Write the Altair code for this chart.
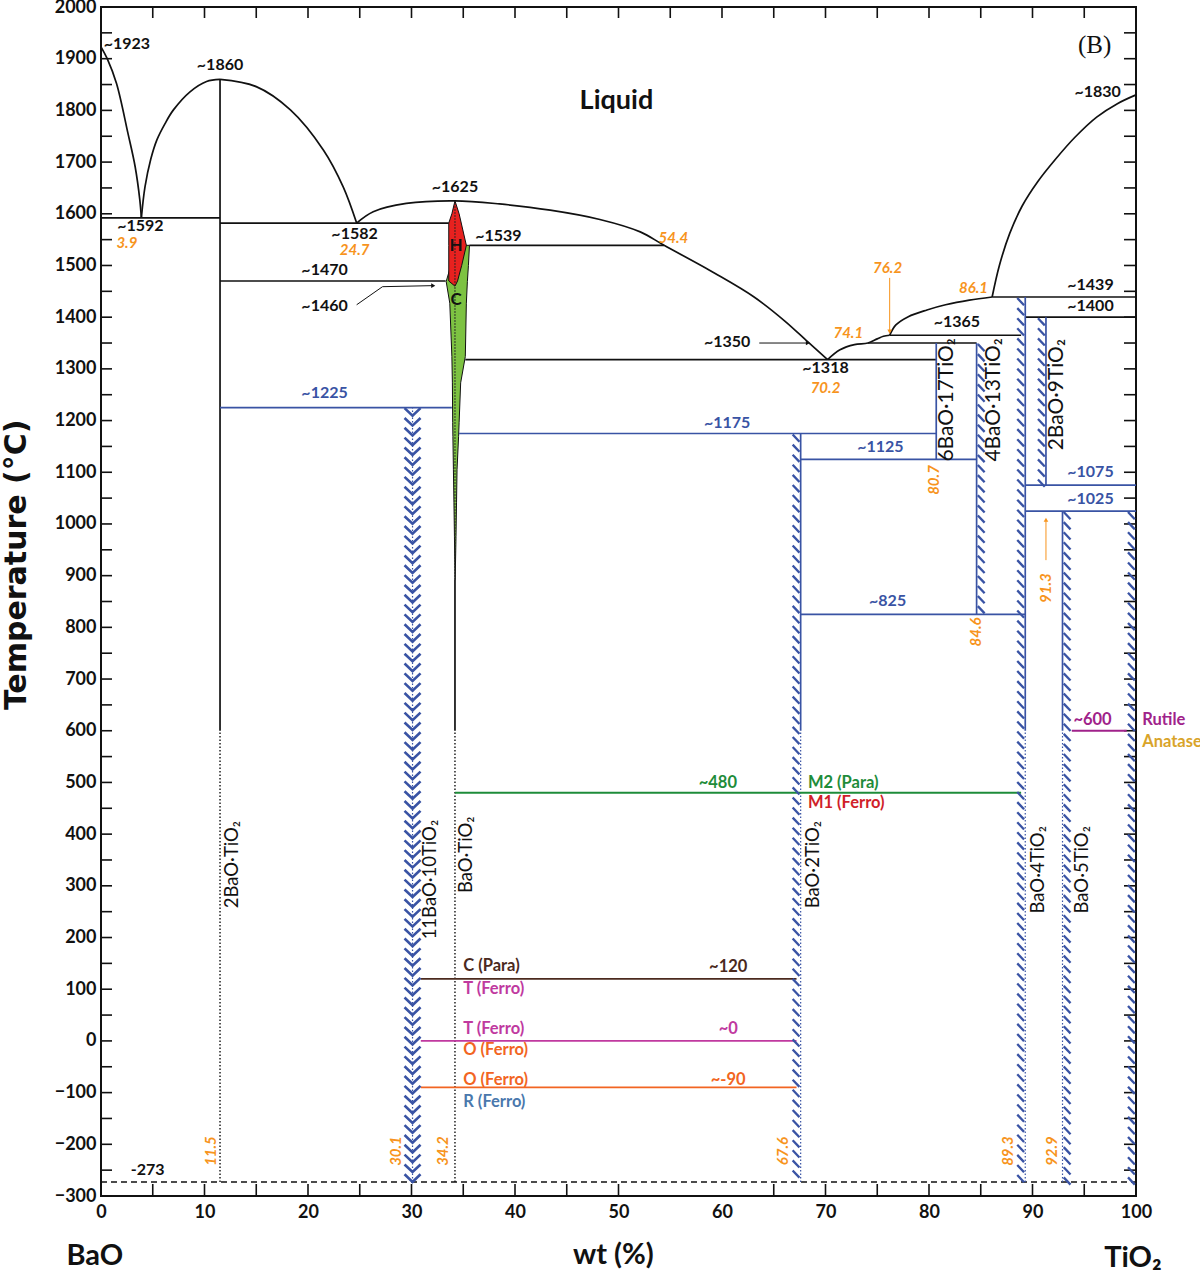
import altair as alt
import pandas as pd
import numpy as np

# ---------------- data (wt% TiO2, temperature in °C) ----------------
# liquidus curves
liq_a_x = [0.0, 0.6, 1.5, 2.6, 3.3, 3.75, 3.9]
liq_a_t = [1923, 1900, 1852, 1756, 1691, 1627, 1592]
liq_b_x = [3.9, 4.25, 4.8, 5.4, 6.2, 7.0, 8.6, 10.2, 11.5]
liq_b_t = [1592, 1652, 1705, 1743, 1775, 1801, 1836, 1856, 1860]
liq_c_x = [11.5, 15.0, 18.3, 21.5, 23.4, 24.7]
liq_c_t = [1860, 1846, 1801, 1723, 1652, 1582]
liq_d_x = [24.7, 26.3, 29.5, 34.2, 38.5, 43.4, 48.2, 52.1, 54.4, 59.3, 63.1, 66.1, 68.3, 70.2]
liq_d_t = [1582, 1604, 1620, 1625, 1619, 1607, 1589, 1565, 1539, 1485, 1439, 1392, 1352, 1318]
liq_e_x = [70.2, 71.4, 72.8, 74.1, 75.0, 75.6, 76.2]
liq_e_t = [1318, 1337, 1347, 1350, 1358, 1363, 1365]
liq_f_x = [76.2, 76.8, 78.0, 79.8, 81.6, 83.9, 86.1]
liq_f_t = [1365, 1385, 1401, 1414, 1424, 1433, 1439]
liq_g_x = [86.1, 86.8, 87.8, 89.0, 90.5, 92.2, 94.1, 96.2, 98.2, 100.0]
liq_g_t = [1439, 1500, 1562, 1615, 1662, 1705, 1748, 1787, 1813, 1830]

# hexagonal (H) and cubic (C) BaTiO3 solid-solution fields (closed outlines)
h_x = [34.2, 33.6, 33.6, 33.6, 33.9, 34.2, 34.6, 35.3, 34.85, 34.45, 34.2]
h_t = [1460, 1470, 1539, 1582, 1600, 1625, 1600, 1539, 1500, 1470, 1460]
c_x = [34.2, 34.15, 34.1, 34.05, 34.0, 33.98, 33.95, 33.9, 33.7, 33.35, 33.8, 34.2,
       35.6, 35.5, 35.4, 35.3, 35.2, 34.75, 34.6, 34.55, 34.4, 34.35, 34.3, 34.22, 34.2]
c_t = [892, 976, 1041, 1105, 1169, 1196, 1273, 1324, 1427, 1469, 1500, 1539,
       1539, 1500, 1469, 1427, 1324, 1273, 1196, 1169, 1105, 1041, 976, 892, 892]

# horizontal invariant lines (x from, x to, T)
blk_h_x1 = [0.0, 11.5, 11.5, 35.6, 35.2, 74.1, 76.2, 86.1, 89.3]
blk_h_x2 = [11.5, 33.6, 33.3, 54.4, 80.7, 84.6, 88.9, 100.0, 100.0]
blk_h_t = [1592, 1582, 1470, 1539, 1318, 1350, 1365, 1439, 1400]
blu_h_x1 = [11.5, 34.6, 67.6, 67.6, 89.3, 89.3]
blu_h_x2 = [33.9, 80.7, 84.6, 89.3, 100.0, 100.0]
blu_h_t = [1225, 1175, 1125, 825, 1075, 1025]

# vertical lines (x, T low, T high)
blk_v_x = [11.5, 34.2]
blk_v_lo = [600, 600]
blk_v_hi = [1860, 892]
blk_dot_x = [11.5, 34.2]
blu_v_x = [80.7, 67.6, 84.6, 89.3, 91.3, 92.9]
blu_v_lo = [1125, 600, 825, 600, 1075, 600]
blu_v_hi = [1350, 1175, 1350, 1439, 1400, 1025]
blu_dot_x = [67.6, 89.3, 92.9, 30.1]
blu_dot_hi = [600, 600, 600, 1225]

# hatched compound bars (x, T top, T bottom)
chev_bars = [(30.1, 1225, -273)]
left_bars = [(67.6, 1175, -273), (89.3, 1439, -273), (91.3, 1400, 1075), (100.0, 1025, -273)]
right_bars = [(84.6, 1350, 825), (92.9, 1025, -273)]

# polymorphic transitions
tr_x1 = [34.2, 30.9, 30.9, 30.9, 93.8]
tr_x2 = [88.9, 67.2, 67.2, 67.2, 99.1]
tr_t = [480, 120, 0, -90, 600]
tr_c = ["#1e8c3a", "#4b2a1e", "#c0399f", "#f26522", "#a0228a"]

# labels
black_txt = ["~1923", "~1860", "~1592", "~1582", "~1625", "~1539", "~1470", "~1460",
             "~1350", "~1318", "~1365", "~1439", "~1400", "~1830", "-273"]
black_x = [2.5, 11.5, 3.8, 24.5, 34.2, 38.4, 21.6, 21.6, 60.5, 70.0, 82.7, 95.6, 95.6, 96.3, 4.5]
black_t = [1928, 1888, 1576, 1561, 1652, 1557, 1491, 1422, 1352, 1302, 1391, 1462, 1422, 1836, -249]

blue_txt = ["~1225", "~1175", "~1125", "~825", "~1075", "~1025"]
blue_x = [21.6, 60.5, 75.3, 76.0, 95.6, 95.6]
blue_t = [1253, 1195, 1149, 851, 1101, 1048]

org_txt = ["3.9", "24.7", "54.4", "70.2", "74.1", "76.2", "86.1"]
org_x = [2.5, 24.5, 55.3, 70.0, 72.2, 76.0, 84.3]
org_t = [1543, 1530, 1553, 1263, 1370, 1495, 1457]

orgv_txt = ["80.7", "84.6", "91.3", "11.5", "30.1", "34.2", "67.6", "89.3", "92.9"]
orgv_x = [80.5, 84.5, 91.3, 10.6, 28.5, 33.0, 65.9, 87.6, 91.9]
orgv_t = [1085, 791, 876, -213, -213, -213, -213, -213, -213]

cmp_txt = ["2BaO·TiO₂", "11BaO·10TiO₂", "BaO·TiO₂", "BaO·2TiO₂", "BaO·4TiO₂", "BaO·5TiO₂"]
cmp_x = [12.7, 31.8, 35.3, 68.8, 90.5, 94.8]
cmp_t = [341, 312, 360, 341, 331, 331]
cmp2_txt = ["6BaO·17TiO₂", "4BaO·13TiO₂", "2BaO·9TiO₂"]
cmp2_x = [81.7, 86.3, 92.4]
cmp2_t = [1240, 1240, 1250]

ph_c_txt = ["~480", "~120", "~0", "~-90", "~600"]
ph_c_x = [59.6, 60.6, 60.6, 60.6, 95.8]
ph_c_t = [499, 143, 23, -75, 621]
ph_c_col = ["#1e8c3a", "#4b2a1e", "#c0399f", "#f26522", "#a0228a"]

ph_l_txt = ["M2 (Para)", "M1 (Ferro)", "C (Para)", "T (Ferro)", "T (Ferro)", "O (Ferro)",
            "O (Ferro)", "R (Ferro)", "Rutile", "Anatase"]
ph_l_x = [68.3, 68.3, 35.0, 35.0, 35.0, 35.0, 35.0, 35.0, 100.6, 100.6]
ph_l_t = [499, 461, 144, 101, 23, -17, -75, -118, 621, 578]
ph_l_col = ["#1e8c3a", "#d01f2a", "#4b2a1e", "#c0399f", "#c0399f", "#f26522",
            "#f26522", "#4a78ad", "#a0228a", "#d9a42a"]

# ---------------- styling ----------------
FONT = "Lato"
BLACK = "#111111"
BLUE = "#3953a4"
ORANGE = "#f7941d"
W, H = 1035, 1189
XS = alt.Scale(domain=[0, 100], nice=False, zero=False)
YS = alt.Scale(domain=[-300, 2000], nice=False, zero=False)

XAXIS = alt.Axis(orient="bottom", values=list(range(0, 101, 10)), title=None, ticks=False,
                 domain=False, grid=False, labelFont=FONT, labelFontSize=18, format="d",
                 labelFontWeight="bold", labelColor=BLACK, labelPadding=7, labelFlush=False,
                 labelOverlap=False)
YAXIS = alt.Axis(orient="left", values=list(range(-300, 2001, 100)), title=None, ticks=False,
                 domain=False, grid=False, labelFont=FONT, labelFontSize=18, format="d",
                 labelFontWeight="bold", labelColor=BLACK, labelPadding=5, labelFlush=False,
                 labelOverlap=False)


def X(f="x"):
    return alt.X(f, type="quantitative", scale=XS, axis=XAXIS)


def Y(f="T"):
    return alt.Y(f, type="quantitative", scale=YS, axis=YAXIS)


def path_df(segs):
    rows = []
    for k, (xs, ts) in enumerate(segs):
        for i, (x, t) in enumerate(zip(xs, ts)):
            rows.append({"seg": k, "i": i, "x": x, "T": t})
    return pd.DataFrame(rows)


def hrule(x1, x2, t, **kw):
    df = pd.DataFrame({"x1": x1, "x2": x2, "T": t})
    return alt.Chart(df).mark_rule(**kw).encode(x=X("x1"), x2=alt.X2("x2"), y=Y("T"))


def vrule(x, lo, hi, **kw):
    df = pd.DataFrame({"x": x, "lo": lo, "hi": hi})
    return alt.Chart(df).mark_rule(**kw).encode(x=X("x"), y=Y("lo"), y2=alt.Y2("hi"))


def hatch(bars, shape, size, step, sw):
    rows = []
    for (x, top, bot) in bars:
        for t in np.arange(top - step / 2.0, bot, -step):
            rows.append({"x": x, "T": t})
    return alt.Chart(pd.DataFrame(rows)).mark_point(
        shape=shape, size=size, filled=False, stroke=BLUE, strokeWidth=sw, opacity=1
    ).encode(x=X(), y=Y())


def texts(txt, xs, ts, col=None, font=FONT, **kw):
    df = pd.DataFrame({"text": txt, "x": xs, "T": ts})
    enc = dict(x=X(), y=Y(), text="text:N")
    if col is not None:
        df["c"] = col
        enc["color"] = alt.Color("c:N", scale=None)
    return alt.Chart(df).mark_text(font=font, **kw).encode(**enc)


def polygon(xs, ts, fill):
    df = pd.DataFrame({"x": xs, "T": ts, "i": list(range(len(xs)))})
    return alt.Chart(df).mark_line(fill=fill, stroke=BLACK, strokeWidth=1, interpolate="linear") \
        .encode(x=X(), y=Y(), order="i:Q")


layers = []

# inward frame ticks (these layers also carry the axes)
yt = pd.DataFrame({"T": list(range(-300, 2001, 50))})
xt = pd.DataFrame({"x": list(range(0, 101, 5))})
xb = pd.DataFrame({"x": [v for v in range(0, 101, 5) if v not in (55, 60)]})
layers.append(alt.Chart(yt).mark_rule(color=BLACK, strokeWidth=1.6)
              .encode(y=Y("T"), x=alt.value(0), x2=alt.value(11)))
layers.append(alt.Chart(yt).mark_rule(color=BLACK, strokeWidth=1.6)
              .encode(y=Y("T"), x=alt.value(W - 12), x2=alt.value(W)))
layers.append(alt.Chart(xt).mark_rule(color=BLACK, strokeWidth=1.6)
              .encode(x=X("x"), y=alt.value(0), y2=alt.value(11)))
layers.append(alt.Chart(xb).mark_rule(color=BLACK, strokeWidth=1.6)
              .encode(x=X("x"), y=alt.value(H - 12), y2=alt.value(H)))

# phase fields
layers.append(polygon(c_x, c_t, "#7dc242"))
layers.append(polygon(h_x, h_t, "#e8211f"))

# liquidus curves
curves = path_df([(liq_a_x, liq_a_t), (liq_b_x, liq_b_t), (liq_c_x, liq_c_t), (liq_d_x, liq_d_t),
                  (liq_e_x, liq_e_t), (liq_f_x, liq_f_t), (liq_g_x, liq_g_t)])
layers.append(alt.Chart(curves).mark_line(color=BLACK, strokeWidth=1.7, interpolate="catmull-rom")
              .encode(x=X(), y=Y(), detail="seg:N", order="i:Q"))

# invariant lines
layers.append(hrule(blk_h_x1, blk_h_x2, blk_h_t, color=BLACK, strokeWidth=1.7))
layers.append(vrule(blk_v_x, blk_v_lo, blk_v_hi, color=BLACK, strokeWidth=1.7))
layers.append(vrule(blk_dot_x, [-273] * len(blk_dot_x), [600] * len(blk_dot_x),
                    color=BLACK, strokeWidth=1.4, strokeDash=[1.5, 2]))
layers.append(vrule([34.2], [892], [1625], color="#222222", strokeWidth=1.2, strokeDash=[1.5, 1.5]))
layers.append(hrule([0.0], [100.0], [-273], color=BLACK, strokeWidth=1.6, strokeDash=[6, 4]))
layers.append(hrule(blu_h_x1, blu_h_x2, blu_h_t, color=BLUE, strokeWidth=1.7))
layers.append(vrule(blu_v_x, blu_v_lo, blu_v_hi, color=BLUE, strokeWidth=1.7))
layers.append(vrule(blu_dot_x, [-273] * len(blu_dot_x), blu_dot_hi,
                    color=BLUE, strokeWidth=1.2, strokeDash=[1.5, 2]))

# polymorphic transitions
tr_df = pd.DataFrame({"x1": tr_x1, "x2": tr_x2, "T": tr_t, "c": tr_c})
layers.append(alt.Chart(tr_df).mark_rule(strokeWidth=1.8)
              .encode(x=X("x1"), x2=alt.X2("x2"), y=Y("T"), color=alt.Color("c:N", scale=None)))

# hatched compound bars
layers.append(hatch(chev_bars, "M -1 -0.55 L 0 0.4 L 1 -0.55", 256, 19.0, 2.6))
layers.append(hatch(left_bars, "M -1 -0.5 L -0.15 0.4", 256, 19.5, 2.3))
layers.append(hatch(right_bars, "M 0.15 -0.5 L 1 0.4", 256, 19.5, 2.3))

# arrows
arr_blk = path_df([([24.7, 27.2, 32.1], [1424, 1459, 1461]), ([63.6, 68.3], [1350, 1350])])
layers.append(alt.Chart(arr_blk).mark_line(color=BLACK, strokeWidth=1)
              .encode(x=X(), y=Y(), detail="seg:N", order="i:Q"))
arr_org = path_df([([76.2, 76.2], [1476, 1372]), ([91.3, 91.3], [930, 1008])])
layers.append(alt.Chart(arr_org).mark_line(color=ORANGE, strokeWidth=1)
              .encode(x=X(), y=Y(), detail="seg:N", order="i:Q"))
layers.append(alt.Chart(pd.DataFrame({"x": [32.1, 68.3], "T": [1461, 1350]}))
              .mark_point(shape="triangle-right", size=22, filled=True, color=BLACK, opacity=1)
              .encode(x=X(), y=Y()))
layers.append(alt.Chart(pd.DataFrame({"x": [76.2], "T": [1372]}))
              .mark_point(shape="triangle-down", size=22, filled=True, color=ORANGE, opacity=1)
              .encode(x=X(), y=Y()))
layers.append(alt.Chart(pd.DataFrame({"x": [91.3], "T": [1008]}))
              .mark_point(shape="triangle-up", size=22, filled=True, color=ORANGE, opacity=1)
              .encode(x=X(), y=Y()))

# text labels
layers.append(texts(black_txt, black_x, black_t, fontSize=16, fontWeight="bold", color=BLACK))
layers.append(texts(blue_txt, blue_x, blue_t, fontSize=16, fontWeight="bold", color=BLUE))
layers.append(texts(org_txt, org_x, org_t, fontSize=15, fontWeight="bold", fontStyle="italic",
                    color=ORANGE))
layers.append(texts(orgv_txt, orgv_x, orgv_t, fontSize=15, fontWeight="bold", fontStyle="italic",
                    color=ORANGE, angle=270))
layers.append(texts(cmp_txt, cmp_x, cmp_t, fontSize=18.5, color=BLACK, angle=270))
layers.append(texts(cmp2_txt, cmp2_x, cmp2_t, fontSize=21, color=BLACK, angle=270))
layers.append(texts(ph_c_txt, ph_c_x, ph_c_t, col=ph_c_col, fontSize=16.5, fontWeight="bold"))
layers.append(texts(ph_l_txt, ph_l_x, ph_l_t, col=ph_l_col, fontSize=16.5, fontWeight="bold",
                    align="left"))
layers.append(texts(["H", "C"], [34.3, 34.3], [1538, 1433], fontSize=17, fontWeight="bold",
                    color=BLACK))
layers.append(texts(["Liquid"], [49.8], [1818], fontSize=27, fontWeight="bold", color=BLACK))
layers.append(texts(["(B)"], [96.0], [1927], font="Liberation Serif", fontSize=25, color=BLACK))
layers.append(texts(["BaO", "wt (%)", "TiO₂"], [-0.6, 49.5, 99.7], [-417, -414, -419],
                    fontSize=29, fontWeight="bold", color=BLACK))
layers.append(texts(["Temperature (°C)"], [-8.1], [921], font="DejaVu Sans", fontSize=30,
                    fontWeight="bold", color=BLACK, angle=270))

chart = (
    alt.layer(*layers)
    .properties(width=W, height=H,
                padding={"left": 101, "top": 7, "right": 64, "bottom": 77},
                autosize=alt.AutoSizeParams(type="none"))
    .configure(font=FONT)
    .configure_view(stroke=BLACK, strokeWidth=2)
)

chart.save("out.html", embed_options={"renderer": "svg", "actions": False})
